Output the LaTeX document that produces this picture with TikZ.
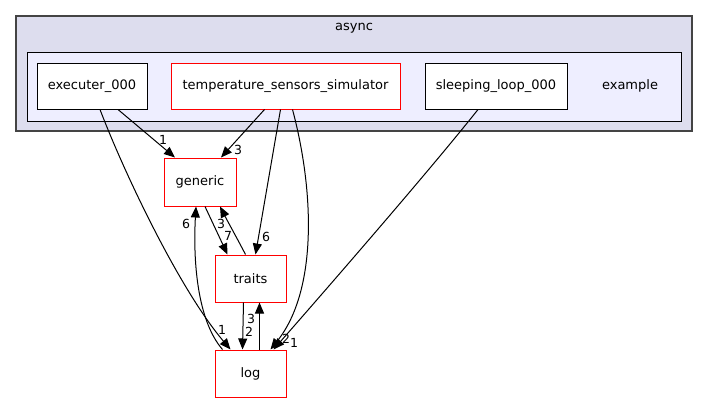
\documentclass[tikz,border=0pt]{standalone}
\usepackage{fontspec}
\setmainfont{DejaVu Sans}
\usetikzlibrary{arrows.meta,positioning}
\definecolor{clouter}{HTML}{DDDDEE}
\definecolor{clinner}{HTML}{EEEEFF}
\definecolor{clborder}{HTML}{444444}
\definecolor{dirred}{HTML}{FF0000}

\begin{document}
\begin{tikzpicture}[x=1pt,y=-1pt,
  txt/.style={font=\fontsize{13}{15}\selectfont},
  dir/.style={txt,draw,fill=white,line width=1pt,minimum height=46pt,inner sep=0pt},
  reddir/.style={dir,draw=dirred},
  dep/.style={-{Triangle[length=11pt,width=9pt]},line width=1pt},
  lbl/.style={font=\fontsize{12.5}{14}\selectfont,inner sep=0pt}]
\useasboundingbox (0,0) rectangle (708,404);
% clusters
\filldraw[fill=clouter,draw=clborder,line width=1.2pt] (16,16) rectangle (692,131);
\node[txt] (async) at (354,28) {async};
\filldraw[fill=clinner,draw=black,line width=1pt] (27,52) rectangle (681,121);
\node[txt] (example) at (630,86) {example};
% directories
\node[dir,minimum width=110pt] (exec) at (92,86) {executer\_000};
\node[reddir,minimum width=229pt] (temp) at (285.5,86) {temperature\_sensors\_simulator};
\node[dir,minimum width=142pt] (sleep) at (496,86) {sleeping\_loop\_000};
\node[reddir,minimum width=72pt,minimum height=48pt] (gen) at (200,182) {generic};
\node[reddir,minimum width=71pt,minimum height=47pt] (traits) at (250.5,278.5) {traits};
\node[reddir,minimum width=71pt,minimum height=47pt] (log) at (250.5,373.5) {log};
% dependencies
\draw[dep] ([xshift=26]exec.south) -- ([xshift=-25]gen.north);
\draw[dep] ([xshift=8]exec.south) .. controls (125,175) and (180,290) .. ([xshift=-20]log.north);
\draw[dep] ([xshift=-28]log.north) .. controls (197,320) and (193,260) .. ([xshift=-4]gen.south);
\draw[dep] ([xshift=-21]temp.south) -- ([xshift=21]gen.north);
\draw[dep] ([xshift=-5]temp.south) -- ([xshift=5]traits.north);
\draw[dep] ([xshift=7]temp.south) .. controls (314,190) and (318,290) .. ([xshift=20]log.north);
\draw[dep] ([xshift=-18]sleep.south) .. controls (430,170) and (330,285) .. ([xshift=23]log.north);
\draw[dep] ([xshift=5]gen.south) -- ([xshift=-23]traits.north);
\draw[dep] ([xshift=-5]traits.north) .. controls (238,240) and (228,222) .. ([xshift=20]gen.south);
\draw[dep] ([xshift=-7]traits.south) -- ([xshift=-8]log.north);
\draw[dep] ([xshift=9]log.north) -- ([xshift=9]traits.south);
% counts
\node[lbl] (n1) at (163,140) {1};
\node[lbl] (n2) at (238,150) {3};
\node[lbl] (n3) at (222,330) {1};
\node[lbl] (n4) at (186,224) {6};
\node[lbl] (n5) at (266,237) {6};
\node[lbl] (n6) at (228,236) {7};
\node[lbl] (n7) at (221,224) {3};
\node[lbl] (n8) at (249,332) {2};
\node[lbl] (n9) at (251,319) {3};
\node[lbl] (n10) at (286,339) {2};
\node[lbl] (n11) at (294,343) {1};
\end{tikzpicture}
\end{document}
